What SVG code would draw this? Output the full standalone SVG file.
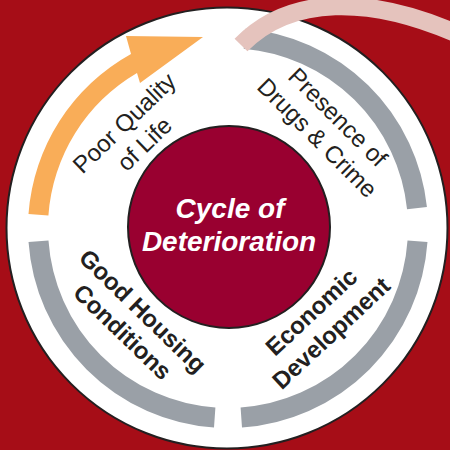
<svg xmlns="http://www.w3.org/2000/svg" width="450" height="450" viewBox="0 0 450 450">
<style>
.arc{fill:none;stroke:#9aa0a7;stroke-width:20}
.lbl{font-family:"Liberation Sans",Arial,sans-serif;font-size:24px;fill:#231f20;text-anchor:middle}
.b{font-weight:bold}
.ctr{font-family:"Liberation Sans",Arial,sans-serif;font-size:28px;font-weight:bold;font-style:italic;fill:#ffffff;text-anchor:middle}
</style>
<rect x="0" y="0" width="450" height="450" fill="#a60d17"/>
<g id="ring">
<circle cx="227" cy="228" r="220.5" fill="#ffffff" stroke="#231f20" stroke-width="2"/>
</g>
<g id="node-poor-quality">
<path d="M28.5 214 A200 200 0 0 1 131 54 L126 36 L203 37 L140 83 L137 73 A180 180 0 0 0 48.4 215.4 Z" fill="#f9ad58"/>
<text class="lbl" transform="translate(130 129) rotate(-44)"><tspan x="0" y="0">Poor Quality</tspan><tspan x="0" y="29">of Life</tspan></text>
</g>
<g id="node-drugs-crime">
<path class="arc" d="M244.6 38.7 A190 190 0 0 1 417 208.1"/>
<text class="lbl" transform="translate(332 123) rotate(45)"><tspan x="0" y="0">Presence of</tspan><tspan x="0" y="29">Drugs &amp; Crime</tspan></text>
</g>
<g id="node-economic">
<path class="arc" d="M417.5 241.3 A190 190 0 0 1 241.3 417.5"/>
<text class="lbl b" transform="translate(317 318) rotate(-43)"><tspan x="0" y="0">Economic</tspan><tspan x="0" y="29">Development</tspan></text>
</g>
<g id="node-housing">
<path class="arc" d="M214.7 417.5 A190 190 0 0 1 38.5 241.3"/>
<text class="lbl b" transform="translate(137 317) rotate(44)"><tspan x="0" y="0">Good Housing</tspan><tspan x="0" y="29">Conditions</tspan></text>
</g>
<g id="node-center">
<circle cx="229" cy="227" r="101" fill="#990030" stroke="#231f20" stroke-width="2"/>
<text class="ctr" x="230" y="218">Cycle of</text>
<text class="ctr" x="229" y="251">Deterioration</text>
</g>
<g id="connectors">
<path d="M241 45 C290 -5 370 -5 460 35" fill="none" stroke="#e5c3bd" stroke-width="18"/>
</g>
</svg>
